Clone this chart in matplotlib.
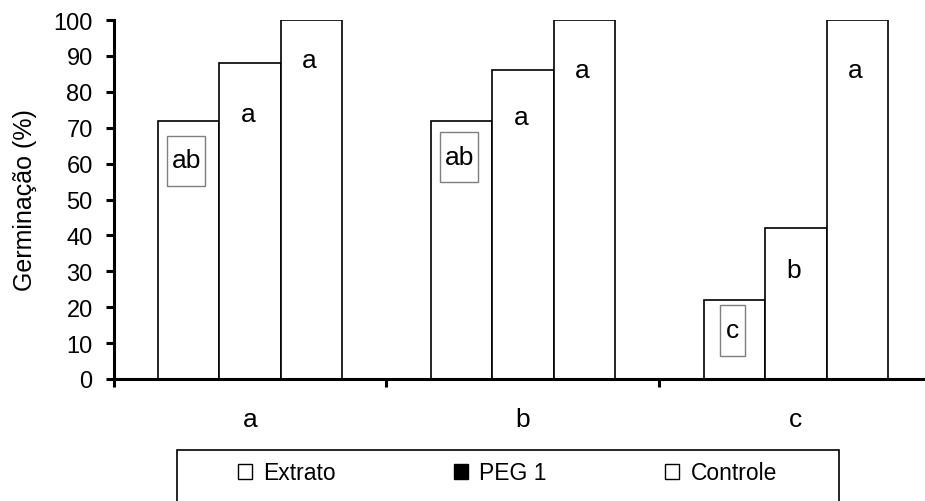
import numpy as np
import matplotlib.pyplot as plt
from matplotlib.patches import Patch, Rectangle

plt.rcParams['font.family'] = ['Liberation Sans', 'DejaVu Sans']

# ==============================
# DADOS
# ==============================
grupos = ["a", "b", "c"]
series = ["Extrato", "PEG 1", "Controle"]
extrato = [72, 72, 22]
peg1 = [88, 86, 42]
controle = [100, 100, 100]

# letras de significancia (uma por barra) e altura da linha de base de cada letra
letras_extrato = ["ab", "ab", "c"]
letras_peg1 = ["a", "a", "b"]
letras_controle = ["a", "a", "a"]
y_letra_extrato = [59, 60, 11.7]
y_letra_peg1 = [72, 71, 28.4]
y_letra_controle = [87, 84, 84]

# ==============================
# FIGURA
# ==============================
fig = plt.figure(figsize=(9.25, 5.02), dpi=100)
ax = fig.add_axes([113.5 / 925, 122 / 502, 819 / 925, 359 / 502])

x = np.arange(len(grupos))
w = 0.225
valores = [extrato, peg1, controle]
letras = [letras_extrato, letras_peg1, letras_controle]
y_letras = [y_letra_extrato, y_letra_peg1, y_letra_controle]

for k, vals in enumerate(valores):
    pos = x + (k - 1) * w
    ax.bar(pos, vals, width=w, color="white", edgecolor="black", linewidth=1.2, zorder=2)
    for i in range(len(grupos)):
        ax.text(pos[i] - 0.008, y_letras[k][i], letras[k][i], ha="center", va="baseline",
                fontsize=19, zorder=4)
        if k == 0:
            # letra do extrato fica dentro de uma caixinha cinza
            bw = 0.139 if len(letras[k][i]) > 1 else 0.092
            ax.add_patch(Rectangle((pos[i] - 0.008 - bw / 2, y_letras[k][i] - 5.2), bw, 14,
                                   fill=False, edgecolor="#7f7f7f", linewidth=1.0, zorder=3))

ax.set_xlim(-0.5, 2.5)
ax.set_ylim(0, 100)
ax.set_yticks(np.arange(0, 101, 10))
ax.set_xticks(x)
ax.set_xticklabels(grupos)
ax.set_xticks(np.arange(-0.5, 2.6, 1.0), minor=True)

for s in ["top", "right"]:
    ax.spines[s].set_visible(False)
for s in ["left", "bottom"]:
    ax.spines[s].set_linewidth(2.2)

ax.tick_params(axis="y", direction="out", length=6, width=2.2, pad=9, labelsize=17)
ax.tick_params(axis="x", which="major", length=0, pad=20, labelsize=19)
ax.tick_params(axis="x", which="minor", direction="out", length=6, width=2.2)

ax.set_ylabel("Germinação (%)", fontsize=18)
ax.yaxis.set_label_coords(-0.093, 0.5)

# ==============================
# LEGENDA
# ==============================
handles = [Patch(facecolor="white", edgecolor="black", linewidth=1),
           Patch(facecolor="black", edgecolor="black", linewidth=1),
           Patch(facecolor="white", edgecolor="black", linewidth=1)]
fig.legend(handles, series, loc="center", ncol=3, mode="expand", frameon=False,
           bbox_to_anchor=(238 / 925, 0.056 - 0.02, 539 / 925, 0.04),
           fontsize=16.5, handlelength=0.6, handleheight=0.6, handletextpad=0.5,
           borderpad=0, borderaxespad=0)
fig.add_artist(Rectangle((177 / 925, -0.05), 662 / 925, 0.1016 + 0.05,
                         transform=fig.transFigure, fill=False,
                         edgecolor="black", linewidth=1.2))

plt.savefig("out.png", dpi=100)
